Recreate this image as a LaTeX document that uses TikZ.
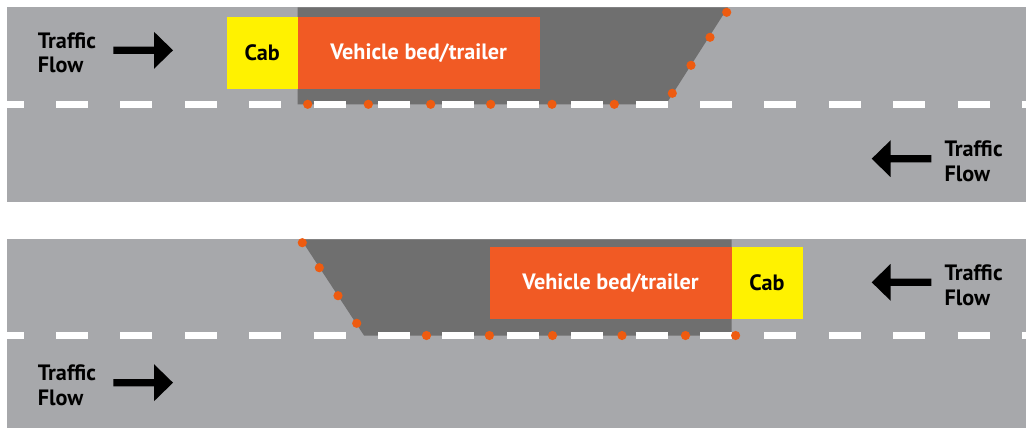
\documentclass[tikz,border=0pt]{standalone}
\usepackage{fontspec}
\setmainfont{PT Sans}
\usetikzlibrary{positioning}
\definecolor{roadgray}{HTML}{A7A8AB}
\definecolor{shadowgray}{HTML}{6F6F6F}
\definecolor{bedorange}{HTML}{F15A24}
\definecolor{cabyellow}{HTML}{FFF200}
\definecolor{dotorange}{HTML}{EE5B10}
\newcommand\flowfont{\fontsize{22.2}{24.8}\selectfont\bfseries}

\begin{document}
\begin{tikzpicture}[x=1pt, y=-1pt,
        lane/.style={fill=roadgray},
        blind/.style={fill=shadowgray},
        centreline/.style={white, line width=6.6pt, dash pattern=on 32pt off 32.4pt, dash phase=15.4pt},
        cabbox/.style={fill=cabyellow, minimum width=71pt, minimum height=71.7pt, inner sep=0pt, outer sep=0pt, font=\flowfont},
        bedbox/.style={fill=bedorange, text=white, minimum width=242pt, minimum height=71.7pt, inner sep=0pt, outer sep=0pt, font=\flowfont},
        flowtext/.style={align=left, inner sep=0pt, font=\flowfont},
        cone/.style={fill=dotorange},
        flowarrow/.pic={\fill (0,-3.65) -- (40.7,-3.65) -- (40.7,-18.5) -- (59.7,0) -- (40.7,18.5) -- (40.7,3.65) -- (0,3.65) -- cycle;}]
    \useasboundingbox[fill=white] (0,0) rectangle (1026,428);
    % upper road
    \fill[lane] (7,7.3) rectangle (1026,202);
    \fill[blind] (297.7,7.3) -- (728,7.3) -- (666,104.3) -- (297.7,104.3) -- cycle;
    \draw[centreline] (7,104.3) -- (1026,104.3);
    \node[cabbox] (caba) at (262.2,53.2) {Cab};
    \node[bedbox, right=0pt of caba] (beda) {Vehicle bed/trailer};
    \foreach \x in {307.7,368.3,430.7,490.7,552,614.3}
        \fill[cone] (\x,104.3) circle[radius=4.6pt];
    \foreach \x/\y in {672.3/93.3,691/65.3,710/37.3,726.7/12.3}
        \fill[cone] (\x,\y) circle[radius=4.6pt];
    \node[flowtext, anchor=base west] (flowa) at (37.7,72.9) {Traffic\\Flow};
    \node[flowtext, anchor=base west] (flowb) at (944.3,181.6) {Traffic\\Flow};
    \pic at (113.3,50.3) {flowarrow};
    \pic[xscale=-1] at (931.4,158.7) {flowarrow};
    % lower road
    \fill[lane] (7,239.3) rectangle (1026,428);
    \fill[blind] (301,239.3) -- (731.5,239.3) -- (731.5,335.5) -- (364,335.5) -- cycle;
    \draw[centreline] (7,335.5) -- (1026,335.5);
    \node[cabbox] (cabb) at (767,283.1) {Cab};
    \node[bedbox, left=0pt of cabb] (bedb) {Vehicle bed/trailer};
    \foreach \x in {426.5,489.4,552.5,622,685.5,735.6}
        \fill[cone] (\x,335.5) circle[radius=4.6pt];
    \foreach \x/\y in {302.3/242.7,319.3/267.7,338/295.7,356.7/323.3}
        \fill[cone] (\x,\y) circle[radius=4.6pt];
    \node[flowtext, anchor=base west] (flowc) at (37.7,405.6) {Traffic\\Flow};
    \node[flowtext, anchor=base west] (flowd) at (944.3,305) {Traffic\\Flow};
    \pic at (113.3,382.7) {flowarrow};
    \pic[xscale=-1] at (931.4,282.3) {flowarrow};
\end{tikzpicture}
\end{document}
